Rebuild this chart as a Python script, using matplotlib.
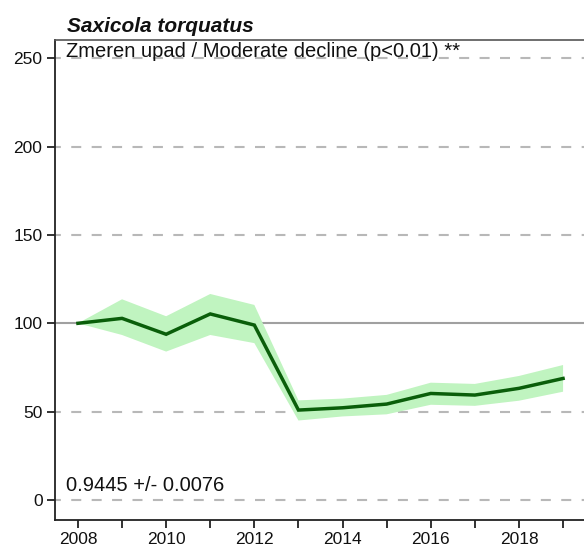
import matplotlib
matplotlib.use('Agg')
import matplotlib.pyplot as plt

#------------------------------
years = [2008, 2009, 2010, 2011, 2012, 2013, 2014, 2015, 2016, 2017, 2018, 2019]
index = [100, 102.8, 93.8, 105.3, 99, 50.9, 52.2, 54.3, 60.3, 59.4, 63.2, 68.8]
upper = [100, 113.6, 104, 116.6, 110.4, 56.4, 57.4, 59.5, 66.4, 65.7, 70.2, 76.4]
lower = [100, 93.4, 84, 93.4, 88.8, 45, 47.3, 48.5, 53.9, 53.3, 56.2, 61.3]
grid_dashed = [0, 50, 150, 200, 250]
base_line = 100
species = 'Saxicola torquatus'
trend_txt = 'Zmeren upad / Moderate decline (p<0.01) **'
slope_txt = '0.9445 +/- 0.0076'
#------------------------------

plt.rcParams['font.family'] = ['Liberation Sans', 'DejaVu Sans']

fig = plt.figure(figsize=(5.84, 5.52), dpi=100)
ax = fig.add_axes([55/584., 32/552., 531/584., 480.5/552.])

for g in grid_dashed:
	ax.axhline(g, color='#b8b8b8', lw=1.5, ls=(2, (4.8, 5.0)), zorder=1)
ax.axhline(base_line, color='#a0a0a0', lw=1.5, zorder=1)

ax.fill_between(years, lower, upper, facecolor='#c0f4c0', edgecolor='none', zorder=2)
ax.plot(years, index, '-', c='#0a5e0a', lw=2.5, solid_joinstyle='miter', zorder=3)

ax.set_xlim(2007.48, 2019.52)
ax.set_ylim(-11.3, 260.6)
ax.set_xticks(years)
ax.set_xticklabels([str(y) if y % 2 == 0 else '' for y in years])
ax.set_yticks([0, 50, 100, 150, 200, 250])

ax.spines['right'].set_visible(False)
for s in ['left', 'bottom']:
	ax.spines[s].set_color('#222222')
	ax.spines[s].set_linewidth(1.3)
ax.spines['top'].set_color('#555555')
ax.spines['top'].set_linewidth(1.2)
ax.tick_params(axis='both', direction='out', length=6, width=1.3, color='#222222',
	labelsize=12.5, labelcolor='#111111', pad=3)

ax.text(2007.73, 250.9, trend_txt, fontsize=14.5, va='baseline', ha='left', color='#111111')
ax.text(2007.73, 5.3, slope_txt, fontsize=14.5, va='baseline', ha='left', color='#111111')
ax.text(2007.75, 265, species, fontsize=15, fontweight='bold', fontstyle='italic',
	va='baseline', ha='left', color='#111111')

fig.savefig('out.png', dpi=100)
